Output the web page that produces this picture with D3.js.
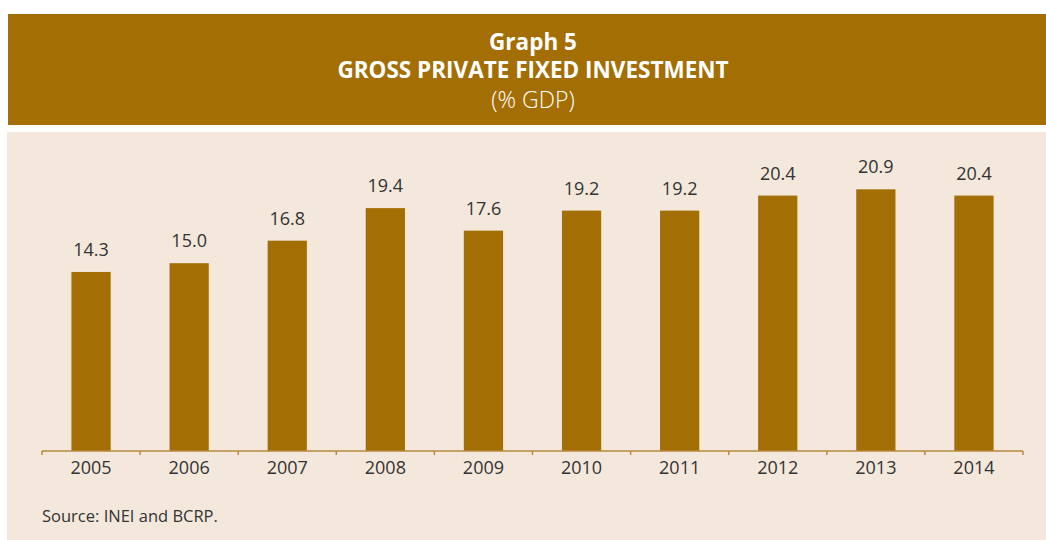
<!DOCTYPE html>
<html>
<head>
<meta charset="utf-8">
<script src="https://cdn.jsdelivr.net/npm/d3@7"></script>
<style>
  html, body { margin: 0; padding: 0; background: #ffffff; }
  svg { display: block; }
</style>
</head>
<body>
<svg id="chart" width="1046" height="540"></svg>
<script>
// Gross private fixed investment, % of GDP
const years = ["2005", "2006", "2007", "2008", "2009", "2010", "2011", "2012", "2013", "2014"];
const values = [14.3, 15.0, 16.8, 19.4, 17.6, 19.2, 19.2, 20.4, 20.9, 20.4];
const titleLines = ["Graph 5", "GROSS PRIVATE FIXED INVESTMENT", "(% GDP)"];
const sourceNote = "Source: INEI and BCRP.";

const W = 1046, H = 540;
const gold = "#A36E03";
const panel = "#F4E8DC";
const font = "'Open Sans', 'DejaVu Sans', sans-serif";

const svg = d3.select("#chart");

// Title band
svg.append("rect").attr("x", 8).attr("y", 14).attr("width", W - 8).attr("height", 111).attr("fill", gold);
const cx = 533;
svg.append("text").attr("x", cx).attr("y", 50).attr("text-anchor", "middle")
  .attr("font-family", font).attr("font-weight", 700).attr("font-size", 22.5).attr("fill", "#fff")
  .text(titleLines[0]);
svg.append("text").attr("x", cx).attr("y", 78).attr("text-anchor", "middle")
  .attr("font-family", font).attr("font-weight", 700).attr("font-size", 22.5).attr("fill", "#fff")
  .text(titleLines[1]);
svg.append("text").attr("x", cx).attr("y", 108).attr("text-anchor", "middle")
  .attr("font-family", font).attr("font-weight", 300).attr("font-size", 23).attr("fill", "#fff")
  .text(titleLines[2]);

// Chart panel
svg.append("rect").attr("x", 7).attr("y", 132).attr("width", W - 7).attr("height", H - 132).attr("fill", panel);

const x = d3.scaleBand().domain(years).range([42, 1023]).paddingInner(0.6).paddingOuter(0.3);
const y = d3.scaleLinear().domain([0, 25]).range([451, 138]);
const step = x.step();

// Bars
svg.append("g").selectAll("rect").data(values).join("rect")
  .attr("x", (d, i) => x(years[i]))
  .attr("y", d => y(d))
  .attr("width", x.bandwidth())
  .attr("height", d => y(0) - y(d))
  .attr("fill", gold);

// Value labels
svg.append("g").selectAll("text").data(values).join("text")
  .attr("x", (d, i) => x(years[i]) + x.bandwidth() / 2)
  .attr("y", d => y(d) - 16)
  .attr("text-anchor", "middle")
  .attr("font-family", font).attr("font-size", 18).attr("fill", "#333")
  .text(d => d.toFixed(1));

// Baseline with ticks between categories
const axisColor = "#B88A3C";
svg.append("line").attr("x1", 42).attr("x2", 1023).attr("y1", y(0)).attr("y2", y(0))
  .attr("stroke", axisColor).attr("stroke-width", 1.5);
const bounds = years.map(c => x(c) + x.bandwidth() / 2 - step / 2).concat([x(years[years.length - 1]) + x.bandwidth() / 2 + step / 2]);
svg.append("g").selectAll("line").data(bounds).join("line")
  .attr("x1", d => d).attr("x2", d => d)
  .attr("y1", y(0)).attr("y2", y(0) + 4)
  .attr("stroke", axisColor).attr("stroke-width", 1.5);

// Category labels
svg.append("g").selectAll("text").data(years).join("text")
  .attr("x", d => x(d) + x.bandwidth() / 2)
  .attr("y", 474)
  .attr("text-anchor", "middle")
  .attr("font-family", font).attr("font-size", 18).attr("fill", "#333")
  .text(d => d);

// Source note
svg.append("text").attr("x", 42).attr("y", 522)
  .attr("font-family", font).attr("font-size", 16.5).attr("fill", "#333")
  .text(sourceNote);
</script>
</body>
</html>
